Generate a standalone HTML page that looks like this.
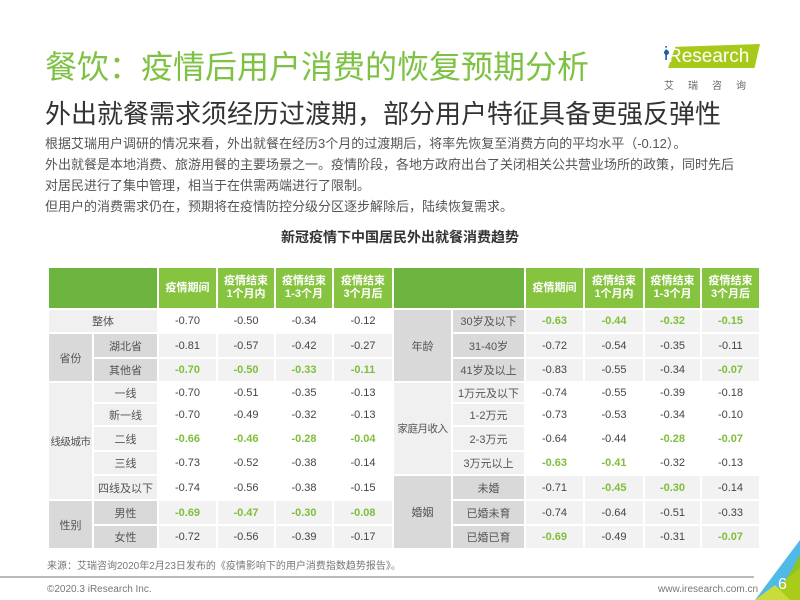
<!DOCTYPE html>
<html><head><meta charset="utf-8"><style>
body{margin:0;width:800px;height:600px;overflow:hidden;background:#fff;font-family:"Liberation Sans","Noto Sans CJK SC",sans-serif;position:relative}
.a{position:absolute;white-space:nowrap}
table{position:absolute;left:47px;top:266px;border-collapse:collapse;table-layout:fixed;font-size:11px;color:#444}
td{border:2px solid #fff;text-align:center;padding:0;vertical-align:middle;white-space:nowrap;overflow:visible}
.h{background:#6cb33f}.hc{background:#86c440;color:#fff;font-weight:bold;line-height:13px}
.d{background:#d9d9d9;color:#555}.l{background:#f0f0f0;color:#555}.w{background:#fff}.g{background:#f2f2f2}
.gr{color:#7dbf3a;font-weight:bold}
.s{font-size:10.5px;letter-spacing:-0.5px}
</style></head><body>
<div class="a" style="left:45px;top:42px;font-size:32px;color:#7dc243">餐饮：疫情后用户消费的恢复预期分析</div>
<div class="a" style="left:664px;top:50px;width:5px;height:5px;border-radius:50%;background:#1f5fa8"></div>
<div class="a" style="left:668px;top:44px;width:92px;height:24px;background:#a6c91a;clip-path:polygon(8% 12%,100% 0,94% 100%,0 100%)"></div>
<div class="a" style="left:668px;top:46px;font-size:19px;color:#fff">Research</div>
<div class="a" style="left:664px;top:44px;font-size:19px;color:#1f5fa8">i</div>
<div class="a" style="left:664px;top:77px;font-size:10px;color:#666;letter-spacing:14px">艾瑞咨询</div>
<div class="a" style="left:45px;top:94px;font-size:26px;color:#333">外出就餐需求须经历过渡期，部分用户特征具备更强反弹性</div>
<div class="a" style="left:45px;top:133px;font-size:13px;color:#555;line-height:21px">根据艾瑞用户调研的情况来看，外出就餐在经历3个月的过渡期后，将率先恢复至消费方向的平均水平（-0.12）。<br>外出就餐是本地消费、旅游用餐的主要场景之一。疫情阶段，各地方政府出台了关闭相关公共营业场所的政策，同时先后<br>对居民进行了集中管理，相当于在供需两端进行了限制。<br>但用户的消费需求仍在，预期将在疫情防控分级分区逐步解除后，陆续恢复需求。</div>
<div class="a" style="left:0;width:800px;text-align:center;top:227px;font-size:14px;font-weight:bold;color:#333">新冠疫情下中国居民外出就餐消费趋势</div>
<table>
<colgroup><col style="width:45px"><col style="width:65px"><col style="width:59px"><col style="width:58px"><col style="width:58px"><col style="width:60px"><col style="width:59px"><col style="width:73px"><col style="width:59px"><col style="width:60px"><col style="width:57px"><col style="width:59px"></colgroup>
<tr style="height:42px"><td class="h" colspan="2"></td><td class="hc">疫情期间</td><td class="hc">疫情结束<br>1个月内</td><td class="hc">疫情结束<br>1-3个月</td><td class="hc">疫情结束<br>3个月后</td><td class="h" colspan="2"></td><td class="hc">疫情期间</td><td class="hc">疫情结束<br>1个月内</td><td class="hc">疫情结束<br>1-3个月</td><td class="hc">疫情结束<br>3个月后</td></tr>
<tr style="height:24px"><td class="l" colspan="2">整体</td><td class="w">-0.70</td><td class="w">-0.50</td><td class="w">-0.34</td><td class="w">-0.12</td><td class="d" rowspan="3">年龄</td><td class="d">30岁及以下</td><td class="g gr">-0.63</td><td class="g gr">-0.44</td><td class="g gr">-0.32</td><td class="g gr">-0.15</td></tr>
<tr style="height:25px"><td class="d" rowspan="2">省份</td><td class="d">湖北省</td><td class="g">-0.81</td><td class="g">-0.57</td><td class="g">-0.42</td><td class="g">-0.27</td><td class="d">31-40岁</td><td class="g">-0.72</td><td class="g">-0.54</td><td class="g">-0.35</td><td class="g">-0.11</td></tr>
<tr style="height:24px"><td class="d">其他省</td><td class="g gr">-0.70</td><td class="g gr">-0.50</td><td class="g gr">-0.33</td><td class="g gr">-0.11</td><td class="d">41岁及以上</td><td class="g">-0.83</td><td class="g">-0.55</td><td class="g">-0.34</td><td class="g gr">-0.07</td></tr>
<tr style="height:21px"><td class="l s" rowspan="5">线级城市</td><td class="l">一线</td><td class="w">-0.70</td><td class="w">-0.51</td><td class="w">-0.35</td><td class="w">-0.13</td><td class="l s" rowspan="4">家庭月收入</td><td class="l">1万元及以下</td><td class="w">-0.74</td><td class="w">-0.55</td><td class="w">-0.39</td><td class="w">-0.18</td></tr>
<tr style="height:23px"><td class="l">新一线</td><td class="w">-0.70</td><td class="w">-0.49</td><td class="w">-0.32</td><td class="w">-0.13</td><td class="l">1-2万元</td><td class="w">-0.73</td><td class="w">-0.53</td><td class="w">-0.34</td><td class="w">-0.10</td></tr>
<tr style="height:25px"><td class="l">二线</td><td class="w gr">-0.66</td><td class="w gr">-0.46</td><td class="w gr">-0.28</td><td class="w gr">-0.04</td><td class="l">2-3万元</td><td class="w">-0.64</td><td class="w">-0.44</td><td class="w gr">-0.28</td><td class="w gr">-0.07</td></tr>
<tr style="height:24px"><td class="l">三线</td><td class="w">-0.73</td><td class="w">-0.52</td><td class="w">-0.38</td><td class="w">-0.14</td><td class="l">3万元以上</td><td class="w gr">-0.63</td><td class="w gr">-0.41</td><td class="w">-0.32</td><td class="w">-0.13</td></tr>
<tr style="height:25px"><td class="l">四线及以下</td><td class="w">-0.74</td><td class="w">-0.56</td><td class="w">-0.38</td><td class="w">-0.15</td><td class="d" rowspan="3">婚姻</td><td class="d">未婚</td><td class="g">-0.71</td><td class="g gr">-0.45</td><td class="g gr">-0.30</td><td class="g">-0.14</td></tr>
<tr style="height:25px"><td class="d" rowspan="2">性别</td><td class="d">男性</td><td class="g gr">-0.69</td><td class="g gr">-0.47</td><td class="g gr">-0.30</td><td class="g gr">-0.08</td><td class="d">已婚未育</td><td class="g">-0.74</td><td class="g">-0.64</td><td class="g">-0.51</td><td class="g">-0.33</td></tr>
<tr style="height:24px"><td class="d">女性</td><td class="g">-0.72</td><td class="g">-0.56</td><td class="g">-0.39</td><td class="g">-0.17</td><td class="d">已婚已育</td><td class="g gr">-0.69</td><td class="g">-0.49</td><td class="g">-0.31</td><td class="g gr">-0.07</td></tr>
</table>
<div class="a" style="left:47px;top:557px;font-size:10px;color:#777">来源：艾瑞咨询2020年2月23日发布的《疫情影响下的用户消费指数趋势报告》。</div>
<div class="a" style="left:0;top:576px;width:754px;height:2px;background:#bbb"></div>
<div class="a" style="left:47px;top:584px;font-size:10px;color:#777">©2020.3 iResearch Inc.</div>
<div class="a" style="left:658px;top:584px;font-size:10px;color:#777">www.iresearch.com.cn</div>
<svg class="a" style="left:755px;top:540px" width="45" height="60"><polygon points="45,0 45,40 20,60 0,60" fill="#4fb9e8"/><polygon points="45,15 45,60 20,60" fill="#8fc31f"/><polygon points="30,40 45,28 45,60 15,60" fill="#a9cc1b"/><polygon points="0,60 20,45 35,60" fill="#c8dc3c"/></svg>
<div class="a" style="left:778px;top:576px;font-size:16px;color:#fff">6</div>
</body></html>
